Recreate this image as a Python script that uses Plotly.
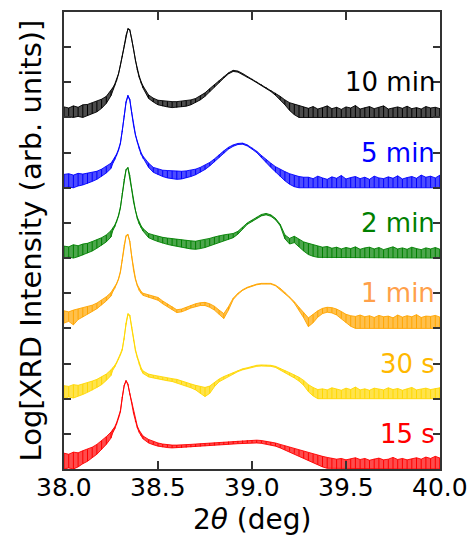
import plotly.graph_objects as go

# Diffraction angle grid (2theta, deg); finer sampling across the sharp substrate peak
two_theta = [
    38.000, 38.025, 38.050, 38.075, 38.100, 38.125, 38.150, 38.175, 38.200, 38.225, 38.250,
    38.26, 38.27, 38.28, 38.29, 38.30, 38.31, 38.32, 38.33, 38.34, 38.35, 38.36, 38.37, 38.38,
    38.39, 38.40, 38.41, 38.42,
    38.450, 38.475, 38.500, 38.525, 38.550, 38.575, 38.600, 38.625, 38.650, 38.675, 38.700,
    38.725, 38.750, 38.775, 38.800, 38.825, 38.850, 38.875, 38.900, 38.925, 38.950, 38.975,
    39.000, 39.025, 39.050, 39.075, 39.100, 39.125, 39.150, 39.175, 39.200, 39.225, 39.250, 39.275,
    39.300, 39.325, 39.350, 39.375, 39.400, 39.425, 39.450, 39.475, 39.500, 39.525, 39.550,
    39.575, 39.600, 39.625, 39.650, 39.675, 39.700, 39.725, 39.750, 39.775, 39.800, 39.825,
    39.850, 39.875, 39.900, 39.925, 39.950, 39.975, 40.000,
]

labels = ["15 s", "30 s", "1 min", "2 min", "5 min", "10 min"]
offsets = [0, 2, 4, 6, 8, 10]

# Log intensity: upper and lower edge of the noisy signal band, per deposition time
top_15s = [
    0.45, 0.42, 0.48, 0.46, 0.52, 0.56, 0.62, 0.70, 0.80, 0.92, 1.05,
    1.12, 1.20, 1.32, 1.48, 1.66, 2.05, 2.38, 2.52, 2.42, 2.15, 1.90, 1.62, 1.38, 1.22, 1.10, 1.00, 0.94,
    0.84, 0.78, 0.74, 0.71, 0.69, 0.68, 0.68, 0.68, 0.69, 0.70, 0.71, 0.72, 0.73, 0.74, 0.75, 0.76, 0.77,
    0.78, 0.79, 0.80, 0.81, 0.82, 0.82, 0.82, 0.81, 0.79, 0.77, 0.74, 0.70, 0.66, 0.62, 0.58, 0.54, 0.50,
    0.46, 0.42, 0.39, 0.36, 0.33, 0.31, 0.28, 0.30, 0.26, 0.29, 0.32, 0.27, 0.30, 0.25, 0.29, 0.31, 0.26,
    0.28, 0.33, 0.27, 0.30, 0.26, 0.29, 0.32, 0.28, 0.34, 0.30, 0.36, 0.31,
]
bot_15s = [
    0.00, 0.03, 0.00, 0.06, 0.15, 0.22, 0.32, 0.42, 0.55, 0.70, 0.88,
    1.04, 1.14, 1.27, 1.44, 1.62, 2.02, 2.36, 2.50, 2.40, 2.12, 1.87, 1.58, 1.34, 1.17, 1.04, 0.94, 0.86,
    0.74, 0.69, 0.65, 0.62, 0.61, 0.60, 0.60, 0.60, 0.61, 0.62, 0.63, 0.64, 0.65, 0.66, 0.67, 0.68, 0.69,
    0.70, 0.71, 0.72, 0.73, 0.74, 0.74, 0.74, 0.73, 0.71, 0.68, 0.65, 0.60, 0.55, 0.50, 0.44, 0.38, 0.31,
    0.24, 0.18, 0.12, 0.06, 0.02, 0.00, 0.00, 0.00, 0.00, 0.00, 0.00, 0.00, 0.00, 0.00, 0.00, 0.00, 0.00,
    0.00, 0.00, 0.00, 0.00, 0.00, 0.00, 0.00, 0.00, 0.00, 0.00, 0.00, 0.00,
]

top_30s = [
    0.37, 0.35, 0.40, 0.38, 0.42, 0.45, 0.50, 0.55, 0.62, 0.70, 0.82,
    0.88, 0.95, 1.04, 1.15, 1.28, 1.42, 1.72, 2.15, 2.42, 2.38, 2.05, 1.68, 1.40, 1.20, 1.02, 0.88, 0.79,
    0.70, 0.67, 0.64, 0.61, 0.59, 0.57, 0.55, 0.50, 0.46, 0.42, 0.38, 0.34, 0.32, 0.36, 0.46, 0.56, 0.63,
    0.69, 0.74, 0.80, 0.85, 0.88, 0.92, 0.95, 0.96, 0.96, 0.95, 0.92, 0.87, 0.80, 0.74, 0.68, 0.61, 0.52,
    0.40, 0.32, 0.26, 0.28, 0.25, 0.31, 0.27, 0.24, 0.30, 0.26, 0.33, 0.25, 0.28, 0.24, 0.30, 0.27, 0.25,
    0.31, 0.26, 0.29, 0.24, 0.28, 0.32, 0.25, 0.27, 0.30, 0.26, 0.29, 0.31,
]
bot_30s = [
    0.00, 0.05, 0.02, 0.08, 0.12, 0.18, 0.24, 0.32, 0.40, 0.52, 0.66,
    0.82, 0.90, 1.00, 1.11, 1.24, 1.38, 1.68, 2.11, 2.39, 2.35, 2.01, 1.64, 1.36, 1.16, 0.97, 0.82, 0.72,
    0.62, 0.59, 0.56, 0.53, 0.51, 0.49, 0.46, 0.41, 0.36, 0.31, 0.25, 0.15, 0.06, 0.15, 0.34, 0.48, 0.57,
    0.64, 0.70, 0.77, 0.82, 0.85, 0.89, 0.92, 0.93, 0.93, 0.92, 0.89, 0.83, 0.75, 0.67, 0.59, 0.50, 0.38,
    0.20, 0.08, 0.00, 0.00, 0.00, 0.00, 0.00, 0.00, 0.00, 0.00, 0.00, 0.00, 0.00, 0.00, 0.00, 0.00, 0.00,
    0.00, 0.00, 0.00, 0.00, 0.00, 0.00, 0.00, 0.00, 0.00, 0.00, 0.00, 0.00,
]

top_1min = [
    0.50, 0.47, 0.52, 0.55, 0.58, 0.62, 0.66, 0.72, 0.80, 0.90, 1.02,
    1.10, 1.18, 1.28, 1.42, 1.62, 1.95, 2.38, 2.64, 2.68, 2.48, 2.05, 1.68, 1.42, 1.24, 1.12, 1.05, 1.00,
    0.95, 0.92, 0.88, 0.78, 0.70, 0.62, 0.53, 0.55, 0.60, 0.66, 0.70, 0.73, 0.74, 0.70, 0.63, 0.52, 0.42,
    0.62, 0.86, 1.00, 1.10, 1.17, 1.22, 1.26, 1.28, 1.29, 1.28, 1.23, 1.14, 1.02, 0.90, 0.76, 0.60, 0.45,
    0.30, 0.40, 0.50, 0.57, 0.60, 0.59, 0.55, 0.48, 0.40, 0.36, 0.34, 0.38, 0.33, 0.36, 0.31, 0.37, 0.33,
    0.35, 0.30, 0.38, 0.32, 0.36, 0.33, 0.39, 0.31, 0.35, 0.34, 0.37, 0.32,
]
bot_1min = [
    0.15, 0.20, 0.10, 0.25, 0.32, 0.40, 0.48, 0.56, 0.66, 0.78, 0.92,
    1.05, 1.14, 1.25, 1.39, 1.59, 1.92, 2.35, 2.62, 2.66, 2.46, 2.02, 1.65, 1.39, 1.21, 1.08, 1.00, 0.94,
    0.88, 0.84, 0.80, 0.70, 0.62, 0.53, 0.45, 0.47, 0.52, 0.58, 0.62, 0.65, 0.65, 0.60, 0.52, 0.40, 0.28,
    0.52, 0.82, 0.97, 1.08, 1.15, 1.20, 1.24, 1.26, 1.27, 1.26, 1.21, 1.11, 0.99, 0.87, 0.72, 0.52, 0.30,
    0.05, 0.16, 0.32, 0.42, 0.46, 0.44, 0.38, 0.28, 0.16, 0.06, 0.00, 0.00, 0.00, 0.00, 0.00, 0.00, 0.00,
    0.00, 0.00, 0.00, 0.00, 0.00, 0.00, 0.00, 0.00, 0.00, 0.00, 0.00, 0.00,
]

top_2min = [
    0.34, 0.32, 0.38, 0.35, 0.40, 0.42, 0.47, 0.52, 0.58, 0.66, 0.78,
    0.86, 0.94, 1.06, 1.22, 1.45, 1.85, 2.25, 2.52, 2.58, 2.35, 1.98, 1.62, 1.36, 1.16, 1.02, 0.92, 0.84,
    0.70, 0.66, 0.62, 0.59, 0.57, 0.55, 0.54, 0.52, 0.50, 0.49, 0.48, 0.50, 0.52, 0.56, 0.60, 0.64, 0.66,
    0.68, 0.70, 0.76, 0.88, 1.00, 1.08, 1.17, 1.24, 1.27, 1.23, 1.13, 0.96, 0.66, 0.56, 0.62, 0.54, 0.46,
    0.42, 0.38, 0.34, 0.31, 0.33, 0.28, 0.31, 0.26, 0.30, 0.27, 0.32, 0.25, 0.29, 0.31, 0.26, 0.30, 0.24,
    0.28, 0.32, 0.26, 0.29, 0.25, 0.31, 0.27, 0.24, 0.29, 0.26, 0.30, 0.25,
]
bot_2min = [
    0.00, 0.03, 0.00, 0.04, 0.08, 0.14, 0.20, 0.28, 0.36, 0.46, 0.60,
    0.79, 0.89, 1.02, 1.19, 1.42, 1.82, 2.22, 2.50, 2.56, 2.33, 1.95, 1.59, 1.33, 1.12, 0.97, 0.86, 0.77,
    0.58, 0.52, 0.47, 0.42, 0.39, 0.36, 0.34, 0.31, 0.28, 0.26, 0.25, 0.27, 0.30, 0.35, 0.40, 0.45, 0.49,
    0.53, 0.58, 0.68, 0.83, 0.96, 1.04, 1.13, 1.20, 1.23, 1.19, 1.09, 0.92, 0.55, 0.40, 0.44, 0.32, 0.20,
    0.10, 0.05, 0.02, 0.00, 0.00, 0.00, 0.00, 0.00, 0.00, 0.00, 0.00, 0.00, 0.00, 0.00, 0.00, 0.00, 0.00,
    0.00, 0.00, 0.00, 0.00, 0.00, 0.00, 0.00, 0.00, 0.00, 0.00, 0.00, 0.00,
]

top_5min = [
    0.38, 0.40, 0.36, 0.41, 0.39, 0.42, 0.43, 0.47, 0.53, 0.61, 0.70,
    0.78, 0.86, 0.96, 1.10, 1.28, 1.62, 2.05, 2.45, 2.63, 2.52, 2.15, 1.80, 1.52, 1.32, 1.15, 1.00, 0.90,
    0.70, 0.58, 0.53, 0.50, 0.49, 0.48, 0.48, 0.47, 0.48, 0.50, 0.53, 0.58, 0.64, 0.72, 0.82, 0.94, 1.05,
    1.15, 1.22, 1.26, 1.27, 1.22, 1.14, 1.04, 0.92, 0.80, 0.70, 0.60, 0.52, 0.46, 0.40, 0.35, 0.32, 0.30,
    0.30, 0.26, 0.33, 0.28, 0.24, 0.31, 0.27, 0.35, 0.25, 0.29, 0.32, 0.26, 0.30, 0.24, 0.33, 0.28, 0.26,
    0.31, 0.27, 0.34, 0.25, 0.29, 0.32, 0.27, 0.36, 0.30, 0.33, 0.28, 0.36,
]
bot_5min = [
    0.00, 0.02, 0.00, 0.05, 0.08, 0.12, 0.18, 0.24, 0.32, 0.42, 0.55,
    0.70, 0.80, 0.91, 1.06, 1.25, 1.59, 2.02, 2.42, 2.60, 2.49, 2.12, 1.77, 1.49, 1.29, 1.11, 0.95, 0.83,
    0.58, 0.44, 0.37, 0.32, 0.28, 0.25, 0.24, 0.25, 0.28, 0.32, 0.37, 0.44, 0.52, 0.62, 0.73, 0.86, 0.98,
    1.10, 1.18, 1.23, 1.24, 1.19, 1.10, 1.00, 0.86, 0.72, 0.58, 0.44, 0.32, 0.20, 0.10, 0.03, 0.00, 0.00,
    0.00, 0.00, 0.00, 0.00, 0.00, 0.00, 0.00, 0.00, 0.00, 0.00, 0.00, 0.00, 0.00, 0.00, 0.00, 0.00, 0.00,
    0.00, 0.00, 0.00, 0.00, 0.00, 0.00, 0.00, 0.00, 0.00, 0.00, 0.00, 0.00,
]

top_10min = [
    0.30, 0.27, 0.33, 0.29, 0.36, 0.37, 0.42, 0.46, 0.52, 0.60, 0.76,
    0.85, 0.95, 1.08, 1.25, 1.48, 1.75, 2.05, 2.35, 2.53, 2.50, 2.25, 1.95, 1.62, 1.38, 1.18, 1.02, 0.90,
    0.64, 0.55, 0.49, 0.47, 0.46, 0.45, 0.45, 0.46, 0.47, 0.50, 0.54, 0.61, 0.70, 0.82, 0.93, 1.05, 1.16,
    1.27, 1.34, 1.32, 1.25, 1.17, 1.10, 1.02, 0.94, 0.86, 0.78, 0.70, 0.60, 0.50, 0.42, 0.38, 0.34, 0.30,
    0.26, 0.31, 0.24, 0.28, 0.33, 0.25, 0.29, 0.23, 0.30, 0.27, 0.34, 0.24, 0.28, 0.31, 0.25, 0.29, 0.33,
    0.24, 0.27, 0.30, 0.26, 0.32, 0.25, 0.28, 0.24, 0.31, 0.27, 0.29, 0.25,
]
bot_10min = [
    0.00, 0.02, 0.00, 0.03, 0.00, 0.05, 0.10, 0.16, 0.26, 0.40, 0.62,
    0.80, 0.91, 1.05, 1.23, 1.46, 1.73, 2.03, 2.33, 2.51, 2.48, 2.23, 1.93, 1.60, 1.35, 1.14, 0.97, 0.84,
    0.54, 0.44, 0.36, 0.32, 0.30, 0.28, 0.28, 0.30, 0.32, 0.36, 0.42, 0.50, 0.60, 0.73, 0.86, 0.99, 1.12,
    1.24, 1.31, 1.29, 1.22, 1.14, 1.07, 0.99, 0.91, 0.83, 0.74, 0.63, 0.50, 0.36, 0.20, 0.08, 0.00, 0.00,
    0.00, 0.00, 0.00, 0.00, 0.00, 0.00, 0.00, 0.00, 0.00, 0.00, 0.00, 0.00, 0.00, 0.00, 0.00, 0.00, 0.00,
    0.00, 0.00, 0.00, 0.00, 0.00, 0.00, 0.00, 0.00, 0.00, 0.00, 0.00, 0.00,
]

tops = [top_15s, top_30s, top_1min, top_2min, top_5min, top_10min]
bots = [bot_15s, bot_30s, bot_1min, bot_2min, bot_5min, bot_10min]

line_colors = ["#ff0000", "#ffd700", "#ffa500", "#008000", "#0000ff", "#000000"]
band_colors = ["rgba(255,0,0,0.7)", "rgba(255,215,0,0.7)", "rgba(255,165,0,0.7)",
               "rgba(0,128,0,0.7)", "rgba(0,0,255,0.7)", "rgba(0,0,0,0.7)"]
label_colors = ["#ff0000", "#ffb800", "#ffa04a", "#008000", "#0000ff", "#000000"]

x_ticks = [38.0, 38.5, 39.0, 39.5, 40.0]
x_ticktext = ["38.0", "38.5", "39.0", "39.5", "40.0"]

FONT = "DejaVu Sans"

fig = go.Figure()

for top, bot, off, col, band in zip(tops, bots, offsets, line_colors, band_colors):
    if len(top) != len(two_theta) or len(bot) != len(two_theta):
        raise ValueError("series length mismatch")
    # envelope of the scatter in the counts, outlined in the series colour
    fig.add_trace(go.Scatter(
        x=two_theta + two_theta[::-1],
        y=[v + off for v in top] + [v + off for v in bot[::-1]],
        mode="lines", fill="toself", fillcolor=band,
        line=dict(color=col, width=0.9), hoverinfo="skip", showlegend=False,
    ))
    # vertical strokes at each sample give the band its spiky texture
    sx, sy = [], []
    for xv, hi, lo in zip(two_theta, top, bot):
        sx += [xv, xv, None]
        sy += [hi + off, lo + off, None]
    fig.add_trace(go.Scatter(
        x=sx, y=sy, mode="lines", line=dict(color=col, width=1),
        connectgaps=False, hoverinfo="skip", showlegend=False,
    ))

for lab, off, col in zip(labels, offsets, label_colors):
    fig.add_annotation(
        x=40.0, y=off + 1, xref="x", yref="y", text=lab, showarrow=False,
        xanchor="right", yanchor="middle", xshift=-3,
        font=dict(family=FONT, size=26, color=col),
    )

# x tick labels, set just beneath the axis line
for tv, tt in zip(x_ticks, x_ticktext):
    fig.add_annotation(
        x=tv, y=0, xref="x", yref="paper", text=tt, showarrow=False,
        xanchor="center", yanchor="middle", yshift=-18,
        font=dict(family=FONT, size=25, color="black"),
    )

# axis titles
fig.add_annotation(
    x=0.5, y=0, xref="paper", yref="paper", text="2<i>θ</i> (deg)", showarrow=False,
    xanchor="center", yanchor="middle", yshift=-50,
    font=dict(family=FONT, size=28, color="black"),
)
fig.add_annotation(
    x=0, y=0.5, xref="paper", yref="paper", text="Log[XRD Intensity (arb. units)]",
    showarrow=False, textangle=-90, xanchor="center", yanchor="middle", xshift=-34,
    font=dict(family=FONT, size=29, color="black"),
)

axis_common = dict(
    showline=True, linecolor="#333333", linewidth=1.5, mirror="ticks",
    ticks="inside", tickcolor="#333333", tickwidth=1.5,
    showgrid=False, zeroline=False,
)
fig.update_xaxes(
    range=[38.0, 40.0], tickvals=x_ticks, ticklen=8, showticklabels=False,
    **axis_common,
)
fig.update_yaxes(
    range=[0, 13], tickvals=list(range(1, 13)), ticklen=7, showticklabels=False,
    **axis_common,
)
fig.update_layout(
    width=476, height=536,
    margin=dict(l=64, r=36, t=10, b=67),
    plot_bgcolor="white", paper_bgcolor="white",
    font=dict(family=FONT),
)

fig.write_html("out.html")
